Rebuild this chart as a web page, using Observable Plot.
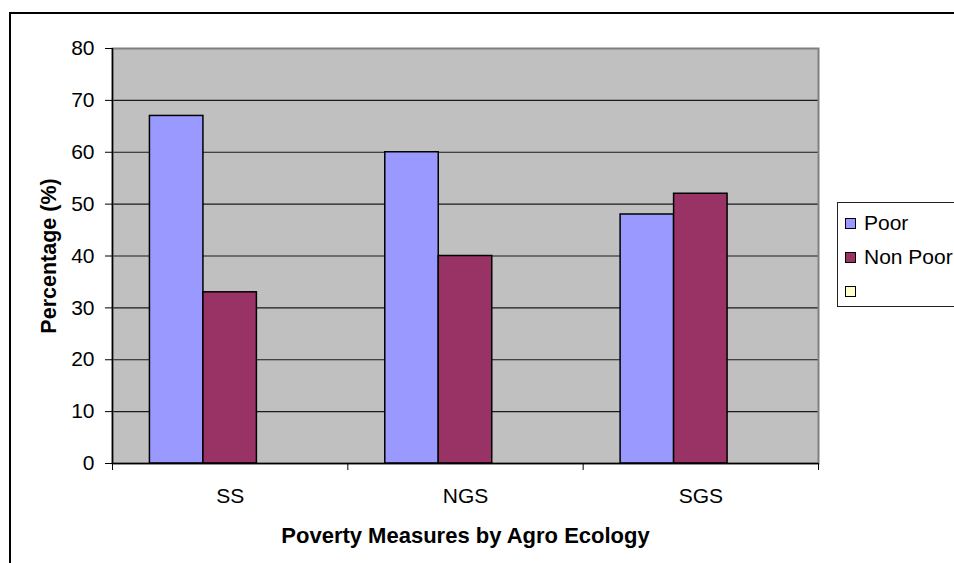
<!DOCTYPE html>
<html>
<head>
<meta charset="utf-8">
<script src="https://cdn.jsdelivr.net/npm/d3@7"></script>
<script src="https://cdn.jsdelivr.net/npm/@observablehq/plot@0.6"></script>
<style>
  html, body { margin: 0; padding: 0; background: #fff; overflow: hidden; }
  #wrap { position: relative; width: 954px; height: 563px; overflow: hidden;
          font-family: Arial, "Liberation Sans", sans-serif; }
  #border { position: absolute; left: 9px; top: 12px; width: 1200px; height: 800px;
            border-left: 2px solid #000; border-top: 2px solid #000; pointer-events: none; }
  #chart { position: absolute; left: 0; top: 0; }
  #legend { position: absolute; left: 837px; top: 202px; width: 140px; height: 105px;
            border: 1px solid #222; background: #fff; box-sizing: border-box; }
  .item { position: absolute; left: 7px; height: 22px; display: flex; align-items: center;
          font-size: 21px; color: #000; white-space: nowrap; }
  .sw { width: 9px; height: 9px; border: 1px solid #000; margin-right: 8px; flex: none; }
</style>
</head>
<body>
<div id="wrap">
  <div id="chart"></div>
  <div id="border"></div>
  <div id="legend"></div>
</div>
<script>
// Share of poor and non-poor households in each agro-ecological zone
const categories = ["SS", "NGS", "SGS"];
const seriesNames = ["Poor", "Non Poor", ""];
const seriesColors = ["#9999FF", "#993366", "#FFFFCC"];
const poor = [67, 60, 48];
const nonPoor = [33, 40, 52];
const yTicks = [0, 10, 20, 30, 40, 50, 60, 70, 80];

// Clustered-column layout: three series slots per category, gap of 140% of a bar
const gapRatio = 1.4;
const barW = 1 / (seriesNames.length + gapRatio);

const rows = [];
categories.forEach((cat, i) => {
  [poor, nonPoor].forEach((vals, s) => {
    const left = i - 0.5 + (gapRatio / 2) * barW + s * barW;
    rows.push({cat, series: seriesNames[s], value: vals[i], x1: left, x2: left + barW});
  });
});

const catIndex = categories.map((_, i) => i);
const boundaries = [-0.5, ...catIndex.map(i => i + 0.5)];
const font = "Arial, 'Liberation Sans', sans-serif";

const chart = Plot.plot({
  width: 954,
  height: 563,
  marginLeft: 112,
  marginRight: 136,
  marginTop: 48,
  marginBottom: 100,
  style: {fontFamily: font, fontSize: "21px", color: "#000", background: "transparent"},
  x: {type: "linear", domain: [-0.5, categories.length - 0.5]},
  y: {domain: [0, 80]},
  color: {domain: seriesNames, range: seriesColors},
  marks: [
    Plot.frame({fill: "#C0C0C0"}),
    Plot.ruleY(yTicks.filter(d => d > 0 && d < 80), {stroke: "#1a1a1a", strokeWidth: 1.2}),
    Plot.frame({stroke: "#808080", strokeWidth: 2}),
    Plot.rectY(rows, {x1: "x1", x2: "x2", y: "value", fill: "series", stroke: "#000", strokeWidth: 1.5}),
    Plot.ruleX([-0.5], {stroke: "#000", strokeWidth: 1.5}),
    Plot.ruleY([0], {stroke: "#000", strokeWidth: 1.5}),
    Plot.axisY({ticks: yTicks, tickSize: 7, tickPadding: 11, tickFormat: d => d, label: null,
                stroke: "#000"}),
    Plot.axisX({ticks: boundaries, tickSize: 7, tickFormat: () => "", label: null, stroke: "#000"}),
    Plot.axisX({ticks: catIndex, tickSize: 0, tickPadding: 25, tickFormat: i => categories[i], label: null}),
    Plot.text(["Percentage (%)"], {frameAnchor: "left", rotate: -90, dx: -63, textAnchor: "middle",
                                   lineAnchor: "middle", fontWeight: "bold", fontSize: 21.5}),
    Plot.text(["Poverty Measures by Agro Ecology"], {frameAnchor: "bottom", dy: 72, textAnchor: "middle",
                                                     lineAnchor: "middle", fontWeight: "bold", fontSize: 22})
  ]
});
document.getElementById("chart").appendChild(chart);

// Legend entries, one per series slot
const legend = document.getElementById("legend");
const colorScale = chart.scale("color");
seriesNames.forEach((name, s) => {
  const item = document.createElement("div");
  item.className = "item";
  item.style.top = (9 + s * 34) + "px";
  const sw = document.createElement("span");
  sw.className = "sw";
  sw.style.background = colorScale.range[s];
  item.appendChild(sw);
  item.appendChild(document.createTextNode(name));
  legend.appendChild(item);
});
</script>
</body>
</html>
